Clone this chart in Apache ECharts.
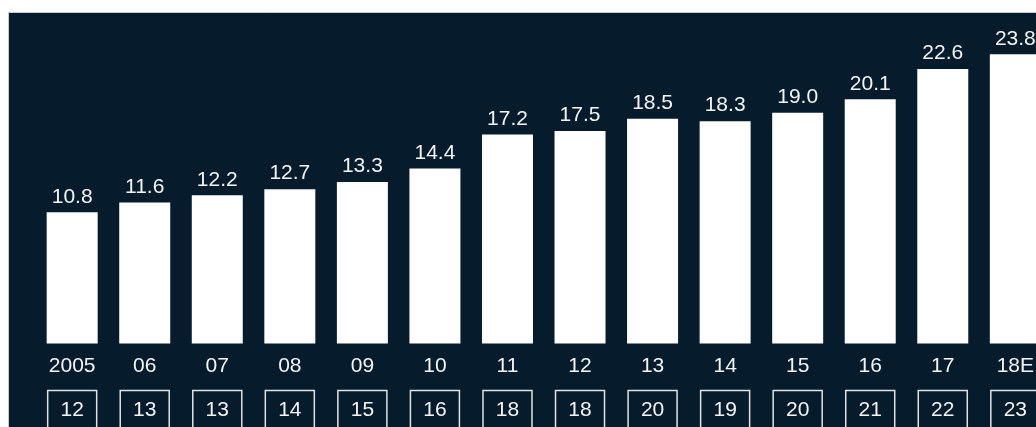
<!DOCTYPE html>
<html><head><meta charset="utf-8">
<script src="https://cdn.jsdelivr.net/npm/echarts@6/dist/echarts.min.js"></script>
<style>html,body{margin:0;padding:0;background:#fff;}#c{width:1036px;height:427px;}</style>
</head><body><div id="c"></div>
<script>
const categories = ['2005','06','07','08','09','10','11','12','13','14','15','16','17','18E'];
const values = [10.8, 11.6, 12.2, 12.7, 13.3, 14.4, 17.2, 17.5, 18.5, 18.3, 19.0, 20.1, 22.6, 23.8];
const boxValues = ['12','13','13','14','15','16','18','18','20','19','20','21','22','23'];

const chart = echarts.init(document.getElementById('c'), null, {renderer: 'canvas'});
const txt = '#f4f4f4';
const font = '"Liberation Sans", Arial, sans-serif';
chart.setOption({
  animation: false,
  backgroundColor: '#ffffff',
  graphic: [{
    type: 'rect', z: -10, silent: true,
    shape: {x: 8.5, y: 12.5, width: 1200, height: 600},
    style: {fill: '#061b2b', stroke: '#c9ccd0', lineWidth: 1}
  }],
  grid: {left: 35.9, top: 39.75, width: 1015.7, bottom: 83.5, containLabel: false, outerBoundsMode: 'none'},
  xAxis: [{
    type: 'category', data: categories, gridIndex: 0,
    axisLine: {show: false}, axisTick: {show: false},
    axisLabel: {color: txt, fontSize: 21, fontFamily: font, margin: 12, interval: 0}
  }, {
    type: 'category', data: boxValues, gridIndex: 0, position: 'bottom',
    axisLine: {show: false}, axisTick: {show: false},
    axisLabel: {
      color: txt, fontSize: 21, fontFamily: font, margin: 47, interval: 0,
      borderColor: '#e2e2e2', borderWidth: 1.5, width: 49, height: 40, lineHeight: 40,
      align: 'center', verticalAlign: 'top', padding: 0
    }
  }],
  yAxis: {type: 'value', min: 0, max: 25, show: false, splitLine: {show: false}},
  series: [{
    type: 'bar', data: values, barWidth: 51, xAxisIndex: 0,
    itemStyle: {color: '#ffffff'},
    label: {show: true, position: 'top', distance: 5, color: txt, fontSize: 21, fontFamily: font,
      formatter: p => p.value.toFixed(1)}
  }]
});
</script></body></html>
